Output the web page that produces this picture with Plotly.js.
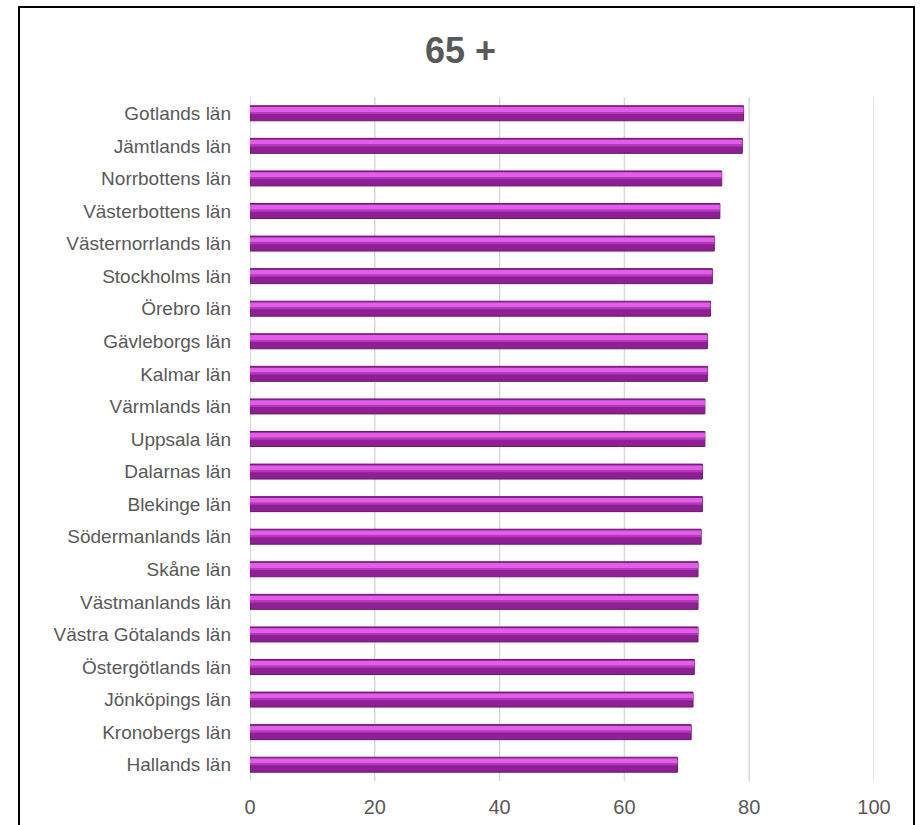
<!DOCTYPE html>
<html>
<head>
<meta charset="utf-8">
<script src="https://cdn.plot.ly/plotly-3.0.1.min.js"></script>
<style>
  html, body { margin: 0; padding: 0; background: #fff; }
  #chart { width: 921px; height: 825px; }
  #frame { position: absolute; left: 18px; top: 6px; width: 893px; height: 840px;
           border: 2px solid #000; pointer-events: none; }
</style>
</head>
<body>
<div id="chart"></div>
<div id="frame"></div>
<script>
const chartTitle = "65 +";
const regions = [
  "Gotlands län", "Jämtlands län", "Norrbottens län", "Västerbottens län",
  "Västernorrlands län", "Stockholms län", "Örebro län", "Gävleborgs län",
  "Kalmar län", "Värmlands län", "Uppsala län", "Dalarnas län",
  "Blekinge län", "Södermanlands län", "Skåne län", "Västmanlands län",
  "Västra Götalands län", "Östergötlands län", "Jönköpings län",
  "Kronobergs län", "Hallands län"
];
const values = [
  79.1, 78.9, 75.6, 75.3,
  74.4, 74.1, 73.8, 73.3,
  73.3, 72.9, 72.9, 72.5,
  72.5, 72.3, 71.8, 71.8,
  71.8, 71.2, 71.0,
  70.7, 68.5
];
const xTicks = [0, 20, 40, 60, 80, 100];

const common = {
  type: "bar", orientation: "h", y: regions, x: values,
  hoverinfo: "skip", showlegend: false
};
const traces = [
  Object.assign({}, common, {
    width: 0.46, offset: -0.23,
    marker: { color: "#8e1f94", line: { color: "#6e1574", width: 1 } }
  }),
  Object.assign({}, common, {
    width: 0.15, offset: -0.19,
    marker: { color: "#e05ee8", line: { width: 0 } }
  }),
  Object.assign({}, common, {
    width: 0.06, offset: -0.04,
    marker: { color: "#b43abb", line: { width: 0 } }
  })
];

const gridShapes = xTicks.map(v => ({
  type: "line", xref: "x", yref: "paper", x0: v, x1: v, y0: 0, y1: 1,
  line: { color: "#d9d9d9", width: v === 0 ? 2 : 1.5 }, layer: "below"
}));

const layout = {
  width: 921, height: 825,
  paper_bgcolor: "#ffffff", plot_bgcolor: "#ffffff",
  margin: { l: 250, r: 47, t: 97, b: 44 },
  barmode: "overlay",
  title: {
    text: chartTitle, x: 0.5, xanchor: "center",
    y: 1 - 50 / 825, yref: "container", yanchor: "middle",
    font: { family: "Liberation Sans, Arial, sans-serif", size: 36, color: "#595959", weight: "bold" }
  },
  font: { family: "Liberation Sans, Arial, sans-serif", color: "#595959" },
  xaxis: {
    range: [0, 100], tickvals: xTicks, ticktext: xTicks.map(String),
    showgrid: false,
    zeroline: false, showline: false, ticks: "",
    tickfont: { size: 20, color: "#595959" }, ticklabelstandoff: 12,
    fixedrange: true
  },
  yaxis: {
    type: "category", autorange: "reversed",
    showgrid: false, zeroline: false,
    showline: false, ticks: "",
    tickfont: { size: 19, color: "#595959" }, ticklabelstandoff: 18,
    fixedrange: true
  },
  shapes: gridShapes
};

Plotly.newPlot("chart", traces, layout, { displayModeBar: false, staticPlot: true });
</script>
</body>
</html>
